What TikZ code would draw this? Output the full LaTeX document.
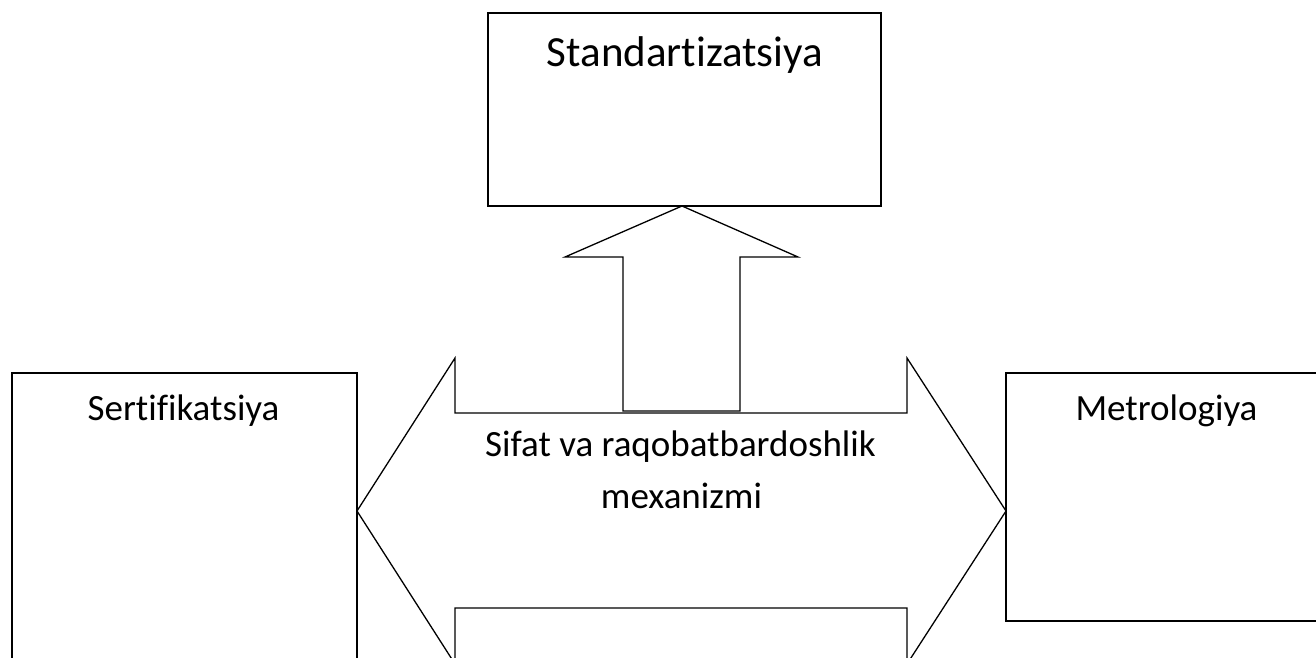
\documentclass[tikz,border=0pt]{standalone}
\usepackage{fontspec}
\setmainfont{Carlito}[Ligatures={NoCommon,NoContextual,NoRare}]
\begin{document}
\begin{tikzpicture}[x=1pt,y=-1pt,
  outline/.style={draw=black, line width=1.3pt, line join=miter},
  box/.style={outline, fill=white, inner sep=0pt, minimum width=#1},
  lbl/.style={anchor=base, inner sep=0pt, font=\fontsize{37}{44}\selectfont},
  biglbl/.style={anchor=base, inner sep=0pt, font=\fontsize{43}{50}\selectfont}]
\useasboundingbox (0,0) rectangle (1316,658);
\clip (0,0) rectangle (1316,658);
\fill[white] (0,0) rectangle (1316,658);

% boxes
\node[box=393pt, minimum height=193pt] (std)  at (684.5,109.5) {};
\node[box=345pt, minimum height=327pt] (sert) at (184.5,536.5) {};
\node[box=321pt, minimum height=248pt] (met)  at (1166.5,497) {};

% double arrow
\draw[outline, fill=white] (357,511) -- (455,358) -- (455,413) -- (907,413) -- (907,358)
  -- (1006,511) -- (907,664) -- (907,608) -- (455,608) -- (455,664) -- cycle;

% up arrow
\draw[outline, fill=white] (682,206) -- (798,257) -- (740,257) -- (740,411) -- (623,411)
  -- (623,257) -- (565,257) -- cycle;

% texts
\node[biglbl] (tstd)  at (685,67)    {Standartizatsiya};
\node[lbl]    (tsert) at (183.5,420) {Sertifikatsiya};
\node[lbl]    (tmet)  at (1166.5,420) {Metrologiya};
\node[lbl]    (tsif)  at (680.5,456) {Sifat va raqobatbardoshlik};
\node[lbl]    (tmex)  at (681.5,508) {mexanizmi};
\end{tikzpicture}
\end{document}
